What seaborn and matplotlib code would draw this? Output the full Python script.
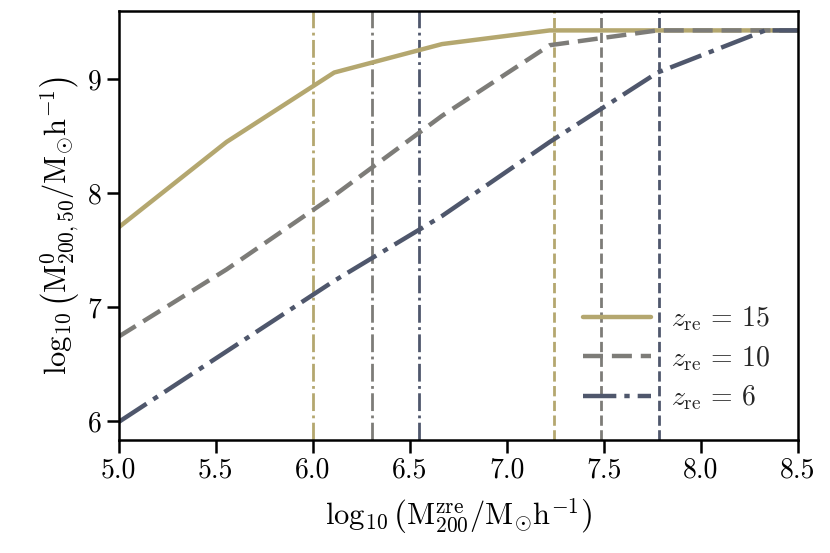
import numpy as np
import pandas as pd
import matplotlib
matplotlib.use("Agg")
import matplotlib.pyplot as plt
import seaborn as sns

# halo mass grid (log10 M200 at z_re)
log_m200 = [5.0, 5.556, 6.111, 6.667, 7.222, 7.778, 8.333, 8.5]

# log10 M200,50 at z=0 for each reionisation redshift
m50_z15 = [7.70, 8.45, 9.06, 9.31, 9.43, 9.43, 9.43, 9.43]
m50_z10 = [6.74, 7.33, 7.98, 8.68, 9.30, 9.43, 9.43, 9.43]
m50_z6 = [5.99, 6.61, 7.23, 7.80, 8.45, 9.06, 9.43, 9.43]

z_labels = ["15", "10", "6"]

# characteristic masses (vertical markers)
m_low = [6.00, 6.307, 6.548]     # dash-dot lines
m_high = [7.244, 7.488, 7.784]   # dashed lines

sns.set_style("ticks")
plt.rcParams["font.family"] = ["serif"]
plt.rcParams["font.serif"] = ["cmr10", "DejaVu Serif"]
plt.rcParams["mathtext.fontset"] = "cm"
plt.rcParams["axes.formatter.use_mathtext"] = True

cmap = plt.get_cmap("cividis")
colors = [cmap(0.72), cmap(0.5), cmap(0.3)]
line_dashes = [None, (4.5, 2.0), (7.5, 1.8, 1.2, 1.8)]

fig, ax = plt.subplots(figsize=(8.3, 5.53), dpi=100)

for xv, c in zip(m_low, colors):
    ax.axvline(xv, color=c, lw=2, ls="-.")
for xv, c in zip(m_high, colors):
    ax.axvline(xv, color=c, lw=2, ls="--")

for yv, c, d, z in zip([m50_z15, m50_z10, m50_z6], colors, line_dashes, z_labels):
    sns.lineplot(x=log_m200, y=yv, color=c, lw=3.2, ax=ax,
                 label=r"$z_{\rm re}\,=\,%s$" % z)
    if d is not None:
        ax.lines[-1].set_dashes(d)

ax.set_xlim(5.0, 8.5)
ax.set_ylim(5.83, 9.6)
ax.set_xticks(np.arange(5.0, 8.51, 0.5))
ax.set_yticks([6, 7, 8, 9])
ax.set_xticklabels(["%.1f" % v for v in np.arange(5.0, 8.51, 0.5)])
ax.set_yticklabels(["6", "7", "8", "9"])
ax.tick_params(labelsize=20, width=1.8, length=9, direction="out",
               color="black", labelcolor="black")
for sp in ax.spines.values():
    sp.set_linewidth(1.8)
    sp.set_color("black")

ax.set_xlabel(r"$\log_{10}\left(\mathrm{M}_{200}^{\mathrm{zre}}/\mathrm{M}_{\odot}\mathrm{h}^{-1}\right)$",
              fontsize=22, color="black", labelpad=9)
ax.set_ylabel(r"$\log_{10}\left(\mathrm{M}_{200,50}^{0}/\mathrm{M}_{\odot}\mathrm{h}^{-1}\right)$",
              fontsize=22, color="black", labelpad=4)

ax.legend(loc="lower right", frameon=False, fontsize=20, handlelength=2.45,
          labelspacing=0.39, borderaxespad=0.6, handletextpad=0.7)

fig.subplots_adjust(left=0.143, right=0.961, top=0.98, bottom=0.204)
fig.savefig("out.png", dpi=100)
